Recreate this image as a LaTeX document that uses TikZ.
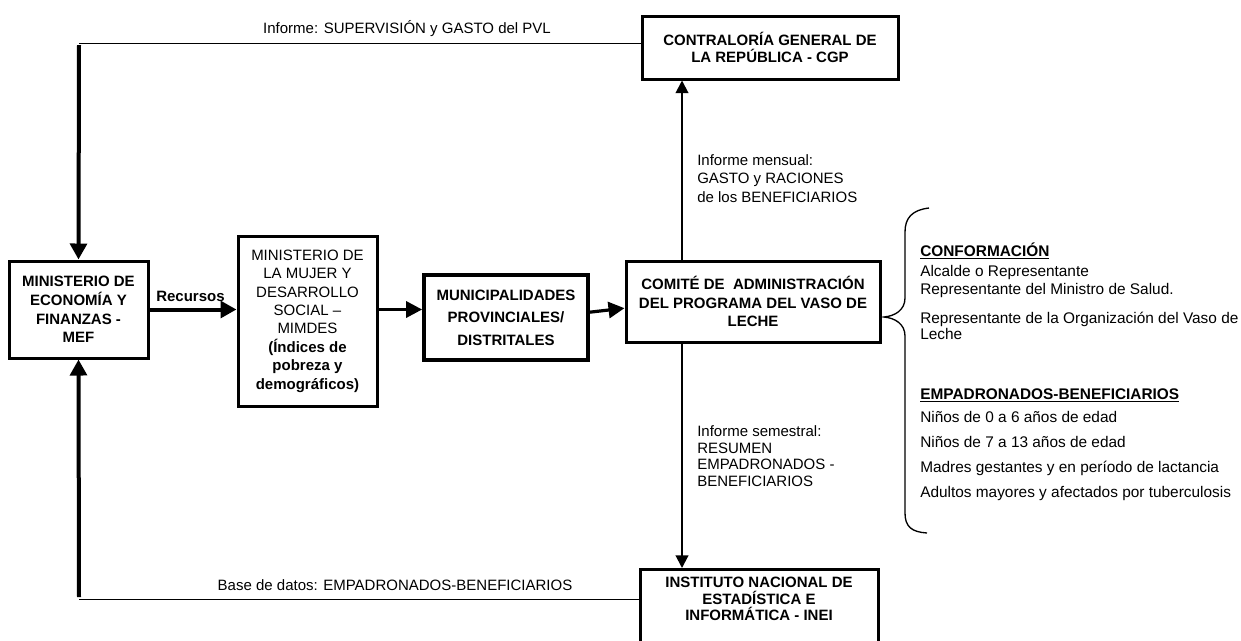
\documentclass[tikz,border=0pt]{standalone}
\usepackage{fontspec}
\setmainfont{Liberation Sans}
\usepackage{tikz}
\usetikzlibrary{arrows.meta,calc}

\newcommand{\diagfont}{\fontsize{11.25pt}{13.9pt}\selectfont}
\newcommand{\notefont}{\fontsize{11.55pt}{13.9pt}\selectfont}

\tikzset{
  box/.style={draw, line width=2.25pt, align=center, inner sep=0pt, font=\diagfont\bfseries},
  boxtext/.style={align=center, inner sep=0pt, font=\fontsize{11.25pt}{12.4pt}\selectfont\bfseries},
  lbl/.style={inner sep=0pt, font=\diagfont},
  note/.style={inner sep=0pt, anchor=base west, font=\notefont},
  bigarrow/.style={line width=3pt, -{Triangle[length=12pt,width=12.5pt]}},
  midarrow/.style={line width=2.4pt, -{Triangle[length=12pt,width=12pt]}},
  thinarrow/.style={line width=1.5pt, -{Triangle[length=9.5pt,width=9.5pt]}},
  feed/.style={line width=0.75pt}
}

\begin{document}
\begin{tikzpicture}[x=0.75pt,y=-0.75pt]
    \useasboundingbox (0,0) rectangle (1241,640);

    % Boxes
    \node[box, minimum width=104.25pt, minimum height=72.75pt] (mef) at (78.5,309.5)
        {MINISTERIO DE\\ECONOMÍA Y\\FINANZAS -\\MEF};
    \node[box, font=\fontsize{11.25pt}{13.8pt}\selectfont, minimum width=104.25pt, minimum height=127.5pt] (mimdes) at (307.5,321)
        {MINISTERIO DE\\LA MUJER Y\\DESARROLLO\\SOCIAL –\\MIMDES\\
         \textbf{(Índices de}\\\textbf{pobreza y}\\\textbf{demográficos)}};
    \node[box, line width=2.8pt, font=\fontsize{11.25pt}{16.9pt}\selectfont\bfseries,
          minimum width=123pt, minimum height=63.75pt] (muni) at (506,317.5)
        {MUNICIPALIDADES\\PROVINCIALES/\\DISTRITALES};
    \node[box, minimum width=190.5pt, minimum height=60.75pt] (comite) at (753,301.5)
        {COMITÉ DE~ ADMINISTRACIÓN\\DEL PROGRAMA DEL VASO DE\\LECHE};
    \node[box, font=\fontsize{11.25pt}{12.5pt}\selectfont\bfseries,
          minimum width=192pt, minimum height=47.25pt] (cgp) at (770,47.5)
        {CONTRALORÍA GENERAL DE\\LA REPÚBLICA - CGP};
    \node[box, minimum width=178.5pt, minimum height=60pt, anchor=north] (inei) at (759,568) {};
    \node[boxtext] (ineit) at (759,599) {INSTITUTO NACIONAL DE\\ESTADÍSTICA E\\INFORMÁTICA - INEI};

    % Flow of resources
    \draw[bigarrow] (mef.east) -- (mimdes.west |- mef.east);
    \node[lbl, font=\diagfont\bfseries] (recursos) at (190.5,296) {Recursos};
    \draw[midarrow] (mimdes.east |- mef.east) -- (muni.west |- mef.east);
    \draw[midarrow] ([yshift=4pt]muni.east) -- ([yshift=-5pt]comite.west);

    % Reports
    \coordinate (cx) at (682,0);
    \draw[thinarrow] (comite.north -| cx) -- (cgp.south -| cx);
    \draw[thinarrow] (comite.south -| cx) -- (inei.north -| cx);
    \node[lbl, align=left, anchor=west, font=\fontsize{11.25pt}{13.6pt}\selectfont] (mensual) at (697,178.5)
        {Informe mensual:\\GASTO y RACIONES\\de los BENEFICIARIOS};
    \node[lbl, align=left, anchor=west, font=\fontsize{11.25pt}{12.4pt}\selectfont] (semestral) at (697,456)
        {Informe semestral:\\RESUMEN\\EMPADRONADOS -\\BENEFICIARIOS};

    % Feedback to MEF
    \coordinate (tl) at (79,43);
    \coordinate (bl) at (79,599);
    \draw[feed] (cgp.west |- tl) -- (tl);
    \draw[bigarrow] ([yshift=-1.5pt]tl) -- (mef.north);
    \node[lbl] (supervision) at (407,29) {Informe: SUPERVISIÓN y GASTO del PVL};
    \draw[feed] (inei.west |- bl) -- (bl);
    \draw[bigarrow] ([yshift=1.5pt]bl) -- (mef.south);
    \node[lbl] (basedatos) at (395,585) {Base de datos: EMPADRONADOS-BENEFICIARIOS};

    % Brace
    \draw[line width=1pt] (929,208) .. controls (912,210) and (905,218) .. (905,232) -- (905,298)
        .. controls (905,310) and (895,316) .. (884,317)
        .. controls (895,318) and (905,324) .. (905,336) -- (905,513)
        .. controls (905,527) and (912,532) .. (927,533);

    % Conformacion
    \node[note, font=\notefont\bfseries] (conf) at (920,256) {\underline{CONFORMACIÓN}};
    \foreach \y/\t [count=\i] in {276/Alcalde o Representante,
                                 294/Representante del Ministro de Salud.,
                                 323/Representante de la Organización del Vaso de,
                                 339/Leche}
        \node[note] (conf\i) at (920,\y) {\t};

    % Empadronados
    \node[note, font=\notefont\bfseries] (emp) at (920,399.5) {\underline{EMPADRONADOS-BENEFICIARIOS}};
    \foreach \y/\t [count=\i] in {422.5/Niños de 0 a 6 años de edad,
                                 447/Niños de 7 a 13 años de edad,
                                 472/Madres gestantes y en período de lactancia,
                                 497/Adultos mayores y afectados por tuberculosis}
        \node[note] (emp\i) at (920,\y) {\t};
\end{tikzpicture}
\end{document}
